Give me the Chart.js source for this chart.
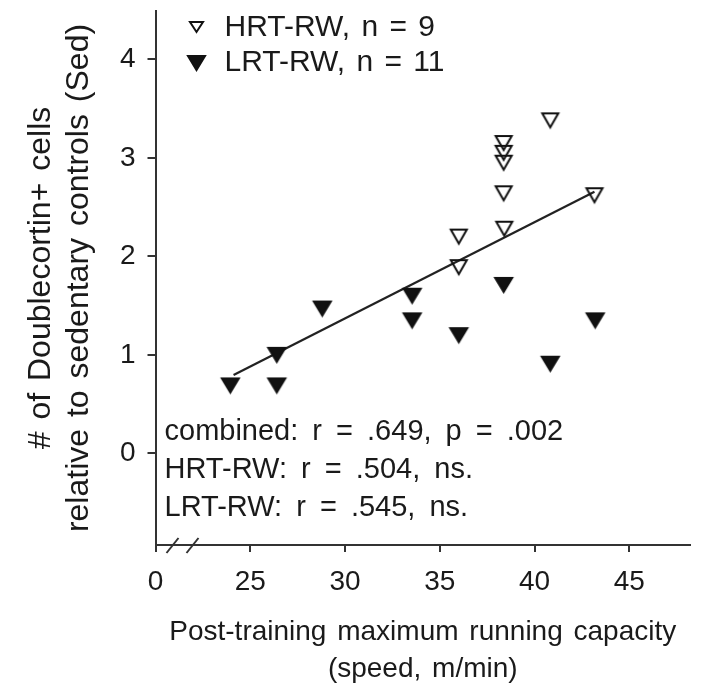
<!DOCTYPE html>
<html>
<head>
<meta charset="utf-8">
<script src="https://cdn.jsdelivr.net/npm/chart.js@4.4.1/dist/chart.umd.min.js"></script>
<style>
  html, body { margin: 0; padding: 0; background: #fff; }
  #wrap { width: 708px; height: 685px; }
</style>
</head>
<body>
<div id="wrap"><canvas id="dcxChart"></canvas></div>
<script>
// running speed (m/min) vs doublecortin+ cells relative to Sed
const hrtSpeed = [40.83, 38.37, 38.37, 38.37, 38.37, 38.4, 36.0, 36.0, 43.16];
const hrtCells = [3.38, 3.15, 3.05, 2.95, 2.64, 2.28, 2.20, 1.89, 2.62];
const lrtSpeed = [23.95, 26.4, 26.4, 28.8, 33.54, 33.54, 36.0, 38.37, 40.83, 43.2];
const lrtCells = [0.69, 1.00, 0.69, 1.47, 1.60, 1.35, 1.20, 1.71, 0.91, 1.35];
const fitSpeed = [24.12, 43.16];
const fitCells = [0.795, 2.656];
const xTicks = [20, 25, 30, 35, 40, 45]; // 20 sits at the axis break, shown as 0
const yTicks = [0, 1, 2, 3, 4];
const legendLabels = ['HRT-RW, n = 9', 'LRT-RW, n = 11'];
const statLines = ['combined: r = .649, p = .002', 'HRT-RW: r = .504, ns.', 'LRT-RW: r = .545, ns.'];

const family = '"Liberation Sans", Arial, Helvetica, sans-serif';
const ink = '#1a1a1a';

// down-pointing triangle marker, w x h is the path size
function triangle(w, h, filled) {
    const pad = 4;
    const c = document.createElement('canvas');
    c.width = w + pad * 2;
    c.height = h + pad * 2;
    const g = c.getContext('2d');
    g.beginPath();
    g.moveTo(pad, pad);
    g.lineTo(pad + w, pad);
    g.lineTo(pad + w / 2, pad + h);
    g.closePath();
    if (filled) {
        g.fillStyle = '#111';
        g.fill();
    }
    g.lineWidth = 2;
    g.strokeStyle = '#111';
    g.stroke();
    return c;
}

const openTri = triangle(16, 14, false);
const fillTri = triangle(17, 14, true);
const openTriSmall = triangle(13, 10, false);

function toPoints(xs, ys) {
    return xs.map((x, i) => ({ x: x, y: ys[i] }));
}

function drawSpaced(ctx, text, x, y, extra) {
    const space = ctx.measureText(' ').width + extra;
    text.split(' ').forEach(word => {
        ctx.fillText(word, x, y);
        x += ctx.measureText(word).width + space;
    });
}

// legend, stats text and the axis break are drawn inside the plot
const overlay = {
    id: 'overlay',
    beforeDraw(chart) {
        chart.ctx.wordSpacing = '3px';
    },
    afterDraw(chart) {
        const ctx = chart.ctx;
        const area = chart.chartArea;
        ctx.save();
        ctx.wordSpacing = '0px';
        ctx.fillStyle = ink;
        ctx.textBaseline = 'alphabetic';
        ctx.textAlign = 'left';

        ctx.font = '30px ' + family;
        ctx.drawImage(openTriSmall, area.left + 41 - openTriSmall.width / 2, 27 - openTriSmall.height / 2);
        ctx.drawImage(fillTri, area.left + 41 - fillTri.width / 2, 63 - fillTri.height / 2);
        drawSpaced(ctx, legendLabels[0], area.left + 69, 36, 3);
        drawSpaced(ctx, legendLabels[1], area.left + 69, 71, 3);

        ctx.font = '29px ' + family;
        const baselines = [440, 478, 515.5];
        statLines.forEach((t, i) => drawSpaced(ctx, t, area.left + 9, baselines[i], 6));

        // axis break marks
        ctx.strokeStyle = '#333';
        ctx.lineWidth = 2;
        const yb = area.bottom + 1;
        [17, 37].forEach(dx => {
            ctx.beginPath();
            ctx.moveTo(area.left + dx - 6, yb + 7);
            ctx.lineTo(area.left + dx + 6, yb - 8);
            ctx.stroke();
        });
        ctx.restore();
    }
};

const tickFont = { size: 28, family: family };

new Chart(document.getElementById('dcxChart'), {
    type: 'scatter',
    data: {
        datasets: [
            {
                label: legendLabels[0],
                data: toPoints(hrtSpeed, hrtCells),
                pointStyle: openTri,
                pointRadius: 10
            },
            {
                label: legendLabels[1],
                data: toPoints(lrtSpeed, lrtCells),
                pointStyle: fillTri,
                pointRadius: 10
            },
            {
                label: 'fit',
                data: toPoints(fitSpeed, fitCells),
                showLine: true,
                pointRadius: 0,
                borderColor: '#222',
                borderWidth: 2.2
            }
        ]
    },
    options: {
        responsive: true,
        maintainAspectRatio: false,
        animation: false,
        layout: { padding: { top: 10.7, right: 18, left: 0, bottom: 0 } },
        plugins: {
            legend: { display: false },
            tooltip: { enabled: false }
        },
        scales: {
            x: {
                type: 'linear',
                min: 20,
                max: 48.2,
                afterBuildTicks: s => { s.ticks = xTicks.map(v => ({ value: v })); },
                afterFit: s => { s.height = 140; s.paddingLeft = 0; s.paddingRight = 0; },
                border: { color: '#333', width: 2 },
                grid: { drawOnChartArea: false, drawTicks: true, tickLength: 7, color: '#333', lineWidth: 2 },
                ticks: {
                    callback: v => (v === 20 ? '0' : String(v)),
                    color: ink,
                    font: tickFont,
                    padding: 13,
                    maxRotation: 0,
                    autoSkip: false
                },
                title: {
                    display: true,
                    text: ['Post-training maximum running capacity', '(speed, m/min)'],
                    color: ink,
                    font: { size: 28, family: family, lineHeight: 1.3 },
                    padding: { top: 0, bottom: -2 }
                }
            },
            y: {
                min: -0.93,
                max: 4.49,
                afterBuildTicks: s => { s.ticks = yTicks.map(v => ({ value: v })); },
                afterFit: s => { s.width = 155.5; s.paddingTop = 0; s.paddingBottom = 0; },
                border: { color: '#333', width: 2 },
                grid: { drawOnChartArea: false, drawTicks: true, tickLength: 8, color: '#333', lineWidth: 2 },
                ticks: { color: ink, font: tickFont, padding: 12 },
                title: {
                    display: true,
                    text: ['# of Doublecortin+ cells', 'relative to sedentary controls (Sed)'],
                    color: ink,
                    font: { size: 32, family: family, lineHeight: 1.16 },
                    padding: { top: 23, bottom: 0 }
                }
            }
        }
    },
    plugins: [overlay]
});
</script>
</body>
</html>
